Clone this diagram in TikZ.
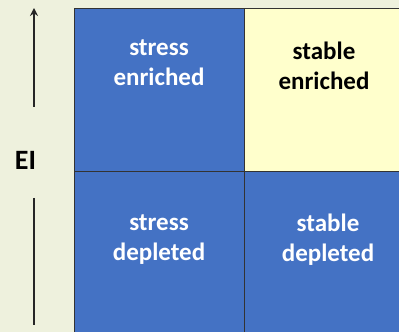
\documentclass[tikz,border=0pt]{standalone}
\usepackage{fontspec}
\setmainfont{Carlito}
\usetikzlibrary{arrows.meta,positioning}
\definecolor{bgpale}{HTML}{EEF1DD}
\definecolor{cellblue}{HTML}{4472C4}
\definecolor{cellyellow}{HTML}{FFFFCC}

\begin{document}
\begin{tikzpicture}[x=1pt,y=1pt,
    cell/.style={draw=black!80,line width=0.8pt,minimum width=170pt,
      minimum height=163pt,inner sep=0pt,outer sep=0pt},
    celltext/.style={font=\bfseries\fontsize{25}{30}\selectfont,align=center},
    axisline/.style={draw=black!85,line width=2.4pt}]
  \useasboundingbox (0,0) rectangle (399,332);
  \clip (0,0) rectangle (399,332);
  \fill[bgpale] (0,0) rectangle (399,332);
  % the four cells
  \node (stressen)[cell,fill=cellblue,anchor=north west] at (74,324) {};
  \node (stableen)[cell,fill=cellyellow,anchor=north west] at (stressen.north east) {};
  \node (stressde)[cell,fill=cellblue,anchor=north west] at (stressen.south west) {};
  \node (stablede)[cell,fill=cellblue,anchor=north west] at (stressen.south east) {};
  % cell labels
  \node (tstressen)[celltext,text=white] at (159,269) {stress\\enriched};
  \node (tstableen)[celltext,text=black] at (324,266) {stable\\enriched};
  \node (tstressde)[celltext,text=white] at (159,92.5) {stress\\depleted};
  \node (tstablede)[celltext,text=white] at (328,92.5) {stable\\depleted};
  % axis
  \node (ei)[font=\bfseries\fontsize{28}{32}\selectfont] at (25.5,172) {EI};
  \coordinate (uptop) at (34,324);
  \coordinate (upbot) at (34,225);
  \coordinate (lotop) at (34,134);
  \coordinate (lobot) at (34,7);
  \draw[axisline,-{Stealth[length=8pt,width=8pt]}] (upbot) -- (uptop);
  \draw[axisline] (lotop) -- (lobot);
\end{tikzpicture}
\end{document}
